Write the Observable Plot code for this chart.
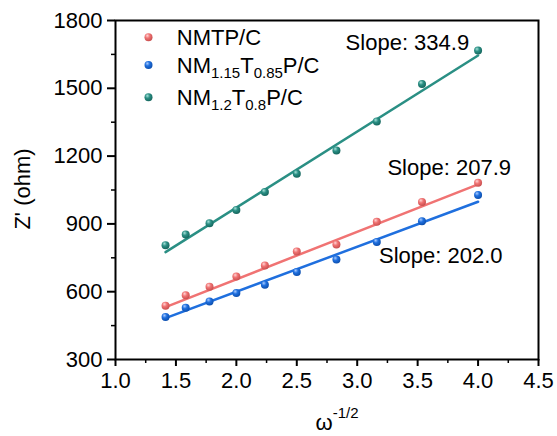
<!DOCTYPE html>
<html><head><meta charset="utf-8">
<script src="https://cdn.jsdelivr.net/npm/d3@7"></script>
<script src="https://cdn.jsdelivr.net/npm/@observablehq/plot@0.6"></script>
<style>html,body{margin:0;padding:0;background:#fff;}</style>
</head><body><div id="chart"></div>
<script>
// ---- data ----
const xVals = [1.414, 1.581, 1.778, 2.0, 2.236, 2.5, 2.828, 3.162, 3.536, 4.0];
const nmtp  = [538, 584, 622, 667, 716, 778, 809, 909, 997, 1082];
const nm115 = [488, 529, 557, 594, 631, 687, 742, 820, 912, 1028];
const nm12  = [806, 853, 903, 962, 1041, 1122, 1225, 1353, 1519, 1667];
const fitX     = [1.414, 4.0];
const nmtpFit  = [532, 1075];
const nm115Fit = [483, 998];
const nm12Fit  = [775, 1645];
const seriesNames = ["NMTP/C", "NM1.15T0.85P/C", "NM1.2T0.8P/C"];
const slopeLabels = ["Slope: 207.9", "Slope: 202.0", "Slope: 334.9"];
const slopeX = [3.25, 3.18, 2.904];
const slopeY = [1148, 757, 1702];
const xTicks = [1.0, 1.5, 2.0, 2.5, 3.0, 3.5, 4.0, 4.5];
const xTickLabels = ["1.0", "1.5", "2.0", "2.5", "3.0", "3.5", "4.0", "4.5"];
const xMinor = [1.25, 1.75, 2.25, 2.75, 3.25, 3.75, 4.25];
const yTicks = [300, 600, 900, 1200, 1500, 1800];
const yTickLabels = ["300", "600", "900", "1200", "1500", "1800"];
const yMinor = [450, 750, 1050, 1350, 1650];
const legendX = 1.273, legendTextX = 1.511;
const legendY = [1726, 1603, 1460];
// legend label parts: [text, isSubscript]
const legendParts = [
  [["NMTP/C", 0]],
  [["NM", 0], ["1.15", 1], ["T", 0], ["0.85", 1], ["P/C", 0]],
  [["NM", 0], ["1.2", 1], ["T", 0], ["0.8", 1], ["P/C", 0]]
];

const colors = ["#f07373", "#1f6fde", "#2a8f84"];
const light  = ["#ffd6d6", "#a9cbff", "#a6e0d8"];
const dark   = ["#c94f4f", "#0d4fae", "#16675e"];
const ids = ["gRed", "gBlue", "gTeal"];
const values = [nmtp, nm115, nm12];
const fits = [nmtpFit, nm115Fit, nm12Fit];

const font = "'Liberation Sans', Arial, sans-serif";

const marks = [];
values.forEach((vals, k) => {
  const fitRows = fitX.map((x, i) => ({x, y: fits[k][i]}));
  marks.push(Plot.line(fitRows, {x: "x", y: "y", stroke: colors[k], strokeWidth: 2.5}));
});
values.forEach((vals, k) => {
  const rows = xVals.map((x, i) => ({x, y: vals[i]}));
  marks.push(Plot.dot(rows, {x: "x", y: "y", r: 4, fill: `url(#${ids[k]})`, stroke: null}));
});
// legend markers
marks.push(...legendY.map((y, k) => Plot.dot([{x: legendX, y}], {x: "x", y: "y", r: 4, fill: `url(#${ids[k]})`})));
// slope labels
marks.push(Plot.text(slopeLabels.map((t, i) => ({t, x: slopeX[i], y: slopeY[i]})), {
  x: "x", y: "y", text: "t", textAnchor: "start", fontSize: 22, fill: "black"
}));
marks.push(Plot.frame({stroke: "black", strokeWidth: 2}));
marks.push(Plot.axisX({ticks: xTicks, tickSize: 7, tickPadding: 6, fontSize: 22, strokeWidth: 2,
  tickFormat: (d) => xTickLabels[xTicks.indexOf(d)], label: null, fill: "black"}));
marks.push(Plot.axisX({ticks: xMinor, tickSize: 4, text: null, label: null, strokeWidth: 1.5}));
marks.push(Plot.axisY({ticks: yTicks, tickSize: 8, tickPadding: 5, fontSize: 22, strokeWidth: 2,
  tickFormat: (d) => yTickLabels[yTicks.indexOf(d)], label: null, fill: "black"}));
marks.push(Plot.axisY({ticks: yMinor, tickSize: 4, text: null, label: null, strokeWidth: 1.5}));

const chart = Plot.plot({
  width: 557, height: 436,
  marginLeft: 115, marginRight: 19, marginTop: 20, marginBottom: 77,
  x: {domain: [1, 4.5]},
  y: {domain: [300, 1800]},
  style: {fontFamily: font, fontSize: "22px", color: "black", background: "white"},
  marks
});

const svg = d3.select(chart);
// gradients for 3D-ball dots
const defs = svg.insert("defs", ":first-child");
ids.forEach((id, k) => {
  const g = defs.append("radialGradient").attr("id", id)
    .attr("cx", "40%").attr("cy", "35%").attr("r", "65%").attr("fx", "35%").attr("fy", "30%");
  g.append("stop").attr("offset", "0%").attr("stop-color", light[k]);
  g.append("stop").attr("offset", "45%").attr("stop-color", colors[k]);
  g.append("stop").attr("offset", "100%").attr("stop-color", dark[k]);
});

const sx = chart.scale("x"), sy = chart.scale("y");
// legend text with subscripts
legendParts.forEach((parts, k) => {
  const t = svg.append("text")
    .attr("x", sx.apply(legendTextX)).attr("y", sy.apply(legendY[k]) + 8)
    .attr("text-anchor", "start")
    .attr("font-family", font).attr("font-size", 22).attr("fill", "black");
  let sub = false;
  parts.forEach(([s, isSub]) => {
    const ts = t.append("tspan").text(s);
    if (isSub && !sub) { ts.attr("dy", 5).attr("font-size", 15); sub = true; }
    else if (isSub) { ts.attr("font-size", 15); }
    else if (!isSub && sub) { ts.attr("dy", -5); sub = false; }
  });
});
// axis titles
const xl = svg.append("text").attr("x", 337).attr("y", 430).attr("text-anchor", "middle")
  .attr("font-family", font).attr("font-size", 22).attr("fill", "black");
xl.append("tspan").text("ω");
xl.append("tspan").attr("dy", -12).attr("font-size", 15).text("-1/2");
svg.append("text").attr("transform", "translate(30,189) rotate(-90)").attr("text-anchor", "middle")
  .attr("font-family", font).attr("font-size", 22).attr("fill", "black").text("Z' (ohm)");

document.getElementById("chart").appendChild(chart);
</script>
</body></html>
